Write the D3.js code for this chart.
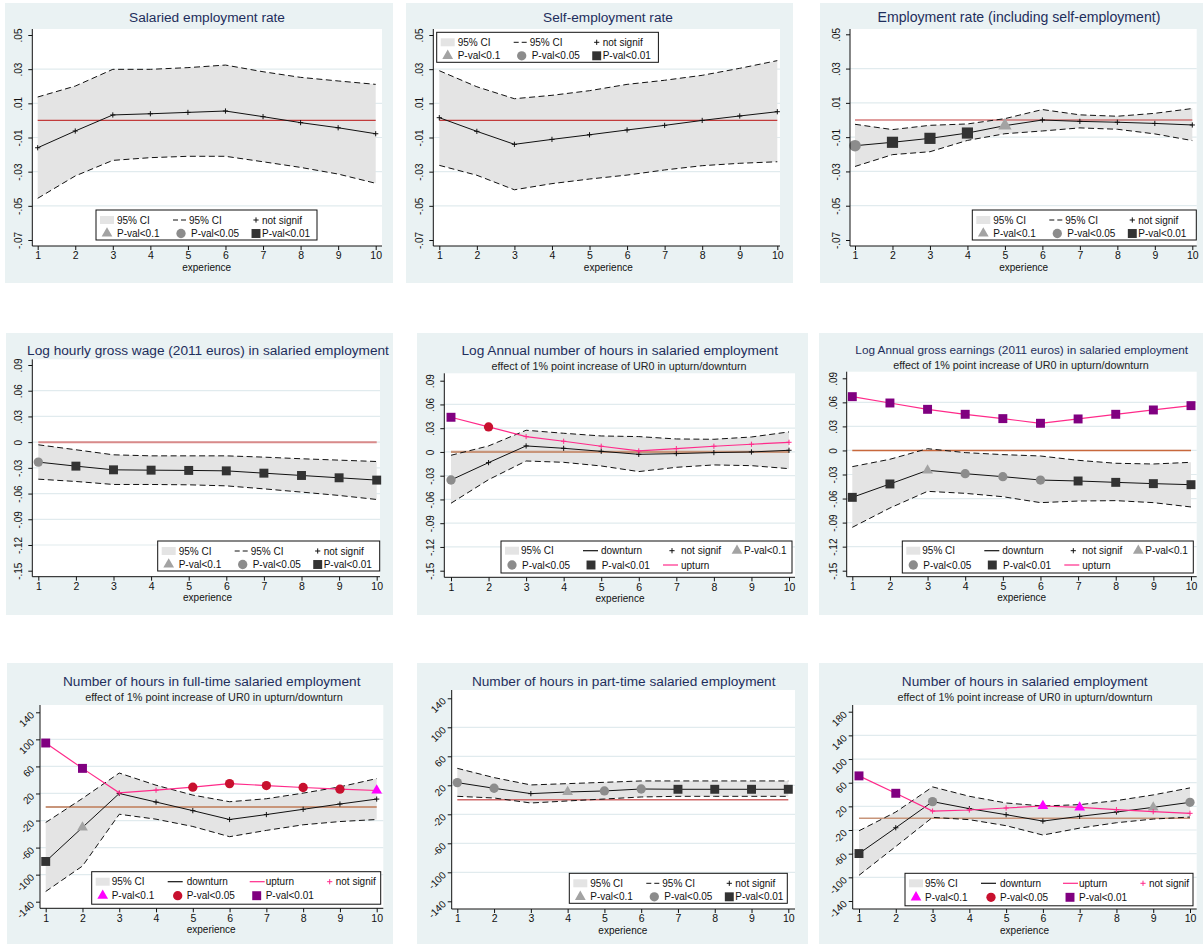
<!DOCTYPE html>
<meta charset="utf-8">
<style>
body { margin: 0; background: #fff; }
text { font-family: "Liberation Sans", Arial, sans-serif; }
</style>
<svg width="1203" height="944"></svg>
<script src="https://cdn.jsdelivr.net/npm/d3@7"></script>
<script>

// ---- data ----
var experience = [1, 2, 3, 4, 5, 6, 7, 8, 9, 10];

var rateTicks = [-0.07, -0.05, -0.03, -0.01, 0.01, 0.03, 0.05];
var rateLabels = ["-.07", "-.05", "-.03", "-.01", ".01", ".03", ".05"];
var logTicks = [-0.15, -0.12, -0.09, -0.06, -0.03, 0, 0.03, 0.06, 0.09];
var logLabels = ["-.15", "-.12", "-.09", "-.06", "-.03", "0", ".03", ".06", ".09"];
var hoursTicks = [-140, -100, -60, -20, 20, 60, 100, 140];
var hoursLabels = ["-140", "-100", "-60", "-20", "20", "60", "100", "140"];
var allHoursTicks = [-140, -100, -60, -20, 20, 60, 100, 140, 180];
var allHoursLabels = ["-140", "-100", "-60", "-20", "20", "60", "100", "140", "180"];

// significance: n = not signif, t = p<0.1, c = p<0.05, s = p<0.01
var salEst = [-0.016, -0.0062, 0.0032, 0.0039, 0.0047, 0.0055, 0.0022, -0.0013, -0.0043, -0.0078];
var salHi  = [0.0137, 0.0201, 0.0299, 0.0299, 0.0309, 0.0324, 0.0285, 0.0252, 0.0231, 0.0211];
var salLo  = [-0.0456, -0.0325, -0.0234, -0.0218, -0.021, -0.021, -0.0242, -0.0275, -0.0314, -0.0368];
var salSig = ["n", "n", "n", "n", "n", "n", "n", "n", "n", "n"];

var selfEst = [0.0016, -0.0064, -0.014, -0.0111, -0.0084, -0.0056, -0.0029, 0, 0.0026, 0.0051];
var selfHi  = [0.0291, 0.0197, 0.0127, 0.0147, 0.0174, 0.0211, 0.0235, 0.0264, 0.0305, 0.035];
var selfLo  = [-0.0263, -0.0321, -0.0406, -0.037, -0.0343, -0.032, -0.029, -0.0265, -0.0251, -0.0242];
var selfSig = ["n", "n", "n", "n", "n", "n", "n", "n", "n", "n"];

var empEst = [-0.015, -0.013, -0.0107, -0.0076, -0.0033, 0, -0.0008, -0.0013, -0.002, -0.0029];
var empHi  = [-0.0025, -0.0056, -0.0031, -0.0023, 0.0008, 0.0061, 0.003, 0.0022, 0.0039, 0.0067];
var empLo  = [-0.0271, -0.0202, -0.0185, -0.0119, -0.008, -0.0064, -0.0046, -0.0054, -0.0081, -0.012];
var empSig = ["c", "s", "s", "s", "t", "n", "n", "n", "n", "n"];

var wageEst = [-0.0233, -0.028, -0.0323, -0.0327, -0.033, -0.0335, -0.0362, -0.0389, -0.0416, -0.0443];
var wageHi  = [-0.0031, -0.0089, -0.0148, -0.016, -0.016, -0.016, -0.0175, -0.0194, -0.021, -0.0226];
var wageLo  = [-0.0432, -0.0459, -0.0494, -0.0494, -0.0498, -0.051, -0.0545, -0.0583, -0.0622, -0.0669];
var wageSig = ["c", "s", "s", "s", "s", "s", "s", "s", "s", "s"];

var lhDown = [-0.0354, -0.0135, 0.0076, 0.0046, 0.0008, -0.003, -0.0021, -0.0008, 0, 0.0021];
var lhHi   = [-0.0042, 0.0076, 0.0274, 0.0236, 0.0202, 0.0194, 0.0164, 0.016, 0.0189, 0.0253];
var lhLo   = [-0.0648, -0.035, -0.0114, -0.0131, -0.0177, -0.0248, -0.0194, -0.0164, -0.0173, -0.0211];
var lhDownSig = ["c", "n", "n", "n", "n", "n", "n", "n", "n", "n"];
var lhUp   = [0.0438, 0.0316, 0.0194, 0.0135, 0.0072, 0.0013, 0.0042, 0.0072, 0.0097, 0.0122];
var lhUpSig = ["s", "c", "n", "n", "n", "n", "n", "n", "n", "n"];

var earnDown = [-0.0585, -0.0418, -0.0248, -0.029, -0.0327, -0.0369, -0.0381, -0.0398, -0.0414, -0.0427];
var earnHi   = [-0.0202, -0.011, 0.0022, -0.0027, -0.0052, -0.0069, -0.0123, -0.016, -0.0169, -0.0148];
var earnLo   = [-0.0959, -0.0718, -0.051, -0.0535, -0.0577, -0.0651, -0.0631, -0.0626, -0.0651, -0.0705];
var earnDownSig = ["s", "s", "t", "c", "c", "c", "s", "s", "s", "s"];
var earnUp   = [0.0671, 0.0592, 0.0513, 0.0451, 0.0397, 0.0339, 0.0393, 0.0451, 0.0505, 0.0559];
var earnUpSig = ["s", "s", "s", "s", "s", "s", "s", "s", "s", "s"];

var ftDown = [-80.5, -30.2, 20, 7.3, -5.4, -18.5, -11.2, -3.4, 4.4, 11.7];
var ftHi   = [-22.9, 12.7, 50.2, 32.2, 17.6, 7.8, 12.2, 20.5, 29.8, 42];
var ftLo   = [-124.9, -87.3, -10.7, -18, -28.8, -43.9, -34.6, -26.3, -21.5, -18.5];
var ftDownSig = ["s", "t", "n", "n", "n", "n", "n", "n", "n", "n"];
var ftUp   = [94.6, 57.1, 21, 24.9, 29.3, 34.6, 31.7, 28.8, 26.3, 24.4];
var ftUpSig = ["s", "s", "n", "n", "c", "c", "c", "c", "c", "t"];

var ptEst = [23.7, 15.9, 8.5, 10.8, 12.2, 14.9, 14.5, 14.5, 14.5, 14.5];
var ptHi  = [43.4, 30.6, 20.5, 22.3, 24.1, 26, 26, 26, 26, 26];
var ptLo  = [4.8, 2.5, -4.4, -1.6, 1.1, 3.9, 4.8, 4.8, 4.8, 4.8];
var ptSig = ["c", "c", "n", "t", "c", "c", "s", "s", "s", "s"];

var hrDown = [-59.8, -16.2, 28, 16.1, 5.9, -4.9, 3.1, 10.4, 18.3, 26.8];
var hrHi   = [-21.3, 10.4, 52.9, 37, 25.7, 20.6, 22.9, 29.7, 39.3, 51.2];
var hrLo   = [-96.6, -47.9, 1.4, -2.5, -12.7, -28.5, -16.8, -7.7, -1.5, 1.9];
var hrDownSig = ["s", "n", "c", "n", "n", "n", "n", "n", "t", "c"];
var hrUp   = [71.5, 42.1, 12.1, 13.8, 17.2, 20.6, 18.3, 14.4, 11, 8.2];
var hrUpSig = ["s", "s", "n", "n", "n", "t", "t", "n", "n", "n"];

// ---- styles ----
var BG = "#eaf2f3", GRID = "#e1ebee", CIFILL = "#e4e4e4";
var downPal = {n: "#111111", t: "#a3a3a3", c: "#8c8c8c", s: "#333333"};
var upPal = {n: "#ff2a8a", t: "#ff00ff", c: "#c8102e", s: "#800080"};
var symType = {t: d3.symbolTriangle, c: d3.symbolCircle, s: d3.symbolSquare};
var symSize = {t: 50, c: 68, s: 80};

var legendA = {h: 30, rows: [10, 23.5], items: [
  {row: 0, key: "area", kx: 4, tx: 21, text: "95% CI"},
  {row: 0, key: "dash", kx: 77, tx: 93, text: "95% CI"},
  {row: 0, key: "n", pal: downPal, kx: 160, tx: 166, text: "not signif"},
  {row: 1, key: "t", pal: downPal, kx: 11, tx: 21, text: "P-val<0.1"},
  {row: 1, key: "c", pal: downPal, kx: 85, tx: 95, text: "P-val<0.05"},
  {row: 1, key: "s", pal: downPal, kx: 160, tx: 166, text: "P-val<0.01"}
]};
var legendB = {h: 32, rows: [9.7, 24], items: [
  {row: 0, key: "area", kx: 4, tx: 20, text: "95% CI"},
  {row: 0, key: "line", color: "#111", kx: 82, tx: 100, text: "downturn"},
  {row: 0, key: "n", pal: downPal, kx: 171, tx: 180, text: "not signif"},
  {row: 0, key: "t", pal: downPal, kx: 236, tx: 243, text: "P-val<0.1"},
  {row: 1, key: "c", pal: downPal, kx: 11, tx: 21, text: "P-val<0.05"},
  {row: 1, key: "s", pal: downPal, kx: 90, tx: 100.7, text: "P-val<0.01"},
  {row: 1, key: "line", color: upPal.n, kx: 162, tx: 180, text: "upturn"}
]};
var legendC = {h: 32.5, rows: [10, 24], items: [
  {row: 0, key: "area", kx: 4, tx: 20, text: "95% CI"},
  {row: 0, key: "line", color: "#111", kx: 76, tx: 95, text: "downturn"},
  {row: 0, key: "line", color: upPal.n, kx: 158, tx: 174, text: "upturn"},
  {row: 0, key: "n", pal: upPal, kx: 238, tx: 244, text: "not signif"},
  {row: 1, key: "t", pal: upPal, kx: 11, tx: 20, text: "P-val<0.1"},
  {row: 1, key: "c", pal: upPal, kx: 86, tx: 95, text: "P-val<0.05"},
  {row: 1, key: "s", pal: upPal, kx: 165, tx: 174, text: "P-val<0.01"}
]};

var subtitle = "effect of 1% point increase of UR0 in upturn/downturn";

var panels = [
  {title: "Salaried employment rate", tt: [207, 22, 156],
   bg: [5, 3, 393, 283], plot: [32.3, 29, 382, 246], yPx: [240, 35], xPx: [37.7, 375.7],
   ticks: rateTicks, labels: rateLabels, angle: 90, zero: "#c23b3b", zw: 1.2,
   est: salEst, hi: salHi, lo: salLo, sig: salSig, legend: legendA, lg: [96, 210, 221]},
  {title: "Self-employment rate", tt: [608, 22, 130],
   bg: [406, 3, 793, 283], plot: [433.3, 29, 780, 246], yPx: [240, 35], xPx: [439.3, 777.3],
   ticks: rateTicks, labels: rateLabels, angle: 90, zero: "#c23b3b", zw: 1.2,
   est: selfEst, hi: selfHi, lo: selfLo, sig: selfSig, legend: legendA, lg: [436.7, 32.3, 221.7]},
  {title: "Employment rate (including self-employment)", tt: [1019, 22, 283],
   bg: [820, 3, 1203, 283], plot: [850, 29, 1196.7, 246], yPx: [240, 34.3], xPx: [855, 1192.3],
   ticks: rateTicks, labels: rateLabels, angle: 90, zero: "#c23b3b", zw: 1.2, ms: 1.25,
   est: empEst, hi: empHi, lo: empLo, sig: empSig, legend: legendA, lg: [972.3, 210, 224]},
  {title: "Log hourly gross wage (2011 euros) in salaried employment", tt: [208, 354.5, 362],
   bg: [6, 333, 393, 615], plot: [32.3, 359.3, 380, 576.7], yPx: [570.7, 365], xPx: [38.3, 376.7],
   ticks: logTicks, labels: logLabels, angle: 90, zero: "#d98a8a", zw: 2,
   est: wageEst, hi: wageHi, lo: wageLo, sig: wageSig, legend: legendA, lg: [157.7, 541, 222]},
  {title: "Log Annual number of hours in salaried employment", tt: [619.7, 355, 317], sub: [619, 369.5, 255],
   bg: [417, 333, 808, 615], plot: [444.3, 373.3, 795, 577.3], yPx: [570.7, 380.7], xPx: [451, 789],
   ticks: logTicks, labels: logLabels, angle: 90, zero: "#c8957a", zw: 2.2,
   est: lhDown, hi: lhHi, lo: lhLo, sig: lhDownSig, up: lhUp, upSig: lhUpSig, legend: legendB, lg: [501, 541, 291]},
  {title: "Log Annual gross earnings (2011 euros) in salaried employment", tt: [1021.7, 353.5, 333], sub: [1021, 369, 256],
   bg: [819, 333, 1203, 615], plot: [846.7, 371.7, 1196.7, 576.7], yPx: [570.7, 378.3], xPx: [852.3, 1191],
   ticks: logTicks, labels: logLabels, angle: 90, zero: "#c8683c", zw: 1.4,
   est: earnDown, hi: earnHi, lo: earnLo, sig: earnDownSig, up: earnUp, upSig: earnUpSig, legend: legendB, lg: [902.3, 541, 291]},
  {title: "Number of hours in full-time salaried employment", tt: [211.7, 685.5, 298], sub: [214, 701, 258],
   bg: [7, 663, 393, 944], plot: [40, 705, 383.3, 908.3], yPx: [901.7, 712.3], xPx: [45.7, 376.7],
   ticks: hoursTicks, labels: hoursLabels, angle: 45, zero: "#c8957a", zw: 2,
   est: ftDown, hi: ftHi, lo: ftLo, sig: ftDownSig, up: ftUp, upSig: ftUpSig, legend: legendC, lg: [91.7, 871.7, 289]},
  {title: "Number of hours in part-time salaried employment", tt: [623.7, 685.5, 304],
   bg: [417, 663, 808, 944], plot: [451.7, 690, 795, 909], yPx: [901.3, 698.3], xPx: [457.3, 788.3],
   ticks: hoursTicks, labels: hoursLabels, angle: 45, zero: "#d06a6a", zw: 1.5,
   est: ptEst, hi: ptHi, lo: ptLo, sig: ptSig, legend: legendA, lg: [569.3, 873.3, 218]},
  {title: "Number of hours in salaried employment", tt: [1024.7, 685.5, 246], sub: [1025, 701, 255],
   bg: [819, 663, 1203, 944], plot: [852.7, 705, 1196.7, 909], yPx: [901, 711.7], xPx: [859, 1190],
   ticks: allHoursTicks, labels: allHoursLabels, angle: 45, zero: "#c8957a", zw: 1.6,
   est: hrDown, hi: hrHi, lo: hrLo, sig: hrDownSig, up: hrUp, upSig: hrUpSig, legend: legendC, lg: [905, 873.3, 288]}
];

var svg = d3.select("svg");

function marker(g, kind, pal, cx, cy, k) {
  k = k || 1;
  if (kind === "n") {
    g.append("path")
      .attr("d", "M" + (cx - 2.6) + "," + cy + "H" + (cx + 2.6) + "M" + cx + "," + (cy - 2.6) + "V" + (cy + 2.6))
      .attr("stroke", pal.n).attr("stroke-width", 1).attr("fill", "none");
  } else {
    g.append("path")
      .attr("transform", "translate(" + cx + "," + cy + ")")
      .attr("d", d3.symbol().type(symType[kind]).size(symSize[kind] * k * k)())
      .attr("fill", pal[kind]);
  }
}

function fit(sel, w) {
  var len = sel.node().getComputedTextLength();
  sel.attr("font-size", +sel.attr("font-size") * w / len);
}

panels.forEach(function(p) {
  var g = svg.append("g");
  var x = d3.scaleLinear().domain([1, 10]).range(p.xPx);
  var y = d3.scaleLinear().domain(d3.extent(p.ticks)).range(p.yPx);

  g.append("rect")
      .attr("x", p.bg[0]).attr("y", p.bg[1])
      .attr("width", p.bg[2] - p.bg[0]).attr("height", p.bg[3] - p.bg[1])
      .attr("fill", BG);
  g.append("rect")
      .attr("x", p.plot[0]).attr("y", p.plot[1])
      .attr("width", p.plot[2] - p.plot[0]).attr("height", p.plot[3] - p.plot[1])
      .attr("fill", "#fff");

  // grid at interior ticks
  g.selectAll(".grid")
    .data(p.ticks.slice(1, -1))
    .enter().append("line")
      .attr("x1", p.plot[0]).attr("x2", p.plot[2])
      .attr("y1", function(d) { return y(d); })
      .attr("y2", function(d) { return y(d); })
      .attr("stroke", GRID).attr("stroke-width", 1.2);

  // CI band
  var band = d3.area()
      .x(function(d, i) { return x(experience[i]); })
      .y0(function(d, i) { return y(p.lo[i]); })
      .y1(function(d) { return y(d); });
  g.append("path").datum(p.hi).attr("d", band).attr("fill", CIFILL);

  var line = d3.line().x(function(d, i) { return x(experience[i]); }).y(function(d) { return y(d); });

  // zero reference
  g.append("path").datum(experience.map(function() { return 0; }))
      .attr("d", line).attr("fill", "none").attr("stroke", p.zero).attr("stroke-width", p.zw);

  [p.hi, p.lo].forEach(function(s) {
    g.append("path").datum(s).attr("d", line)
        .attr("fill", "none").attr("stroke", "#111").attr("stroke-width", 1)
        .attr("stroke-dasharray", "6,3.5");
  });

  g.append("path").datum(p.est).attr("d", line)
      .attr("fill", "none").attr("stroke", "#111").attr("stroke-width", 1);
  p.est.forEach(function(v, i) { marker(g, p.sig[i], downPal, x(experience[i]), y(v), p.ms); });

  if (p.up) {
    g.append("path").datum(p.up).attr("d", line)
        .attr("fill", "none").attr("stroke", upPal.n).attr("stroke-width", 1.2);
    p.up.forEach(function(v, i) { marker(g, p.upSig[i], upPal, x(experience[i]), y(v), p.ms); });
  }

  // axes
  var ya = g.append("g")
      .attr("transform", "translate(" + p.plot[0] + ",0)")
      .call(d3.axisLeft(y).tickValues(p.ticks).tickSize(4)
        .tickFormat(function(d, i) { return p.labels[i]; }));
  ya.select(".domain").remove();
  ya.selectAll(".tick line").attr("stroke", "#111");
  var yt = ya.selectAll(".tick text")
      .attr("font-family", '"Liberation Sans", Arial, sans-serif')
      .attr("font-size", 10).attr("fill", "#111").attr("dy", null);
  if (p.angle === 90) {
    yt.attr("x", 0).attr("y", -10).attr("text-anchor", "middle").attr("transform", "rotate(-90)");
  } else {
    yt.attr("x", 0).attr("y", 0).attr("text-anchor", "end").attr("transform", "translate(-5,3) rotate(-45)");
  }
  g.append("line")
      .attr("x1", p.plot[0]).attr("x2", p.plot[0])
      .attr("y1", p.plot[1]).attr("y2", p.plot[3])
      .attr("stroke", "#111");

  var xa = g.append("g")
      .attr("transform", "translate(0," + p.plot[3] + ")")
      .call(d3.axisBottom(x).tickValues(experience).tickSize(4).tickPadding(2));
  xa.select(".domain").remove();
  xa.selectAll(".tick line").attr("stroke", "#111");
  xa.selectAll(".tick text")
      .attr("font-family", '"Liberation Sans", Arial, sans-serif')
      .attr("font-size", 10.5).attr("fill", "#111");
  g.append("line")
      .attr("x1", p.plot[0]).attr("x2", p.plot[2])
      .attr("y1", p.plot[3]).attr("y2", p.plot[3])
      .attr("stroke", "#111");
  g.append("text")
      .attr("x", (p.xPx[0] + p.xPx[1]) / 2).attr("y", p.plot[3] + 24.5)
      .attr("text-anchor", "middle").attr("font-size", 10).attr("fill", "#111")
      .text("experience");

  // legend
  var L = p.legend, lx = p.lg[0], ly = p.lg[1];
  var lg = g.append("g").attr("transform", "translate(" + lx + "," + ly + ")");
  lg.append("rect").attr("width", p.lg[2]).attr("height", L.h)
      .attr("fill", "#fff").attr("stroke", "#111").attr("stroke-width", 1);
  L.items.forEach(function(it) {
    var cy = L.rows[it.row];
    if (it.key === "area") {
      lg.append("rect").attr("x", it.kx).attr("y", cy - 4).attr("width", 14).attr("height", 8).attr("fill", CIFILL);
    } else if (it.key === "dash") {
      lg.append("line").attr("x1", it.kx).attr("x2", it.kx + 14).attr("y1", cy).attr("y2", cy)
          .attr("stroke", "#111").attr("stroke-dasharray", "5,3");
    } else if (it.key === "line") {
      lg.append("line").attr("x1", it.kx).attr("x2", it.kx + 15).attr("y1", cy).attr("y2", cy)
          .attr("stroke", it.color).attr("stroke-width", 1.2);
    } else {
      marker(lg, it.key, it.pal, it.kx, cy);
    }
    lg.append("text").attr("x", it.tx).attr("y", cy + 3.5)
        .attr("font-size", 10).attr("fill", "#111").text(it.text);
  });

  // titles
  var t = g.append("text")
      .attr("x", p.tt[0]).attr("y", p.tt[1])
      .attr("text-anchor", "middle").attr("font-size", 14).attr("fill", "#1e2e5c")
      .text(p.title);
  fit(t, p.tt[2]);
  if (p.sub) {
    var s = g.append("text")
        .attr("x", p.sub[0]).attr("y", p.sub[1])
        .attr("text-anchor", "middle").attr("font-size", 10.5).attr("fill", "#222")
        .text(subtitle);
    fit(s, p.sub[2]);
  }
});

</script>
